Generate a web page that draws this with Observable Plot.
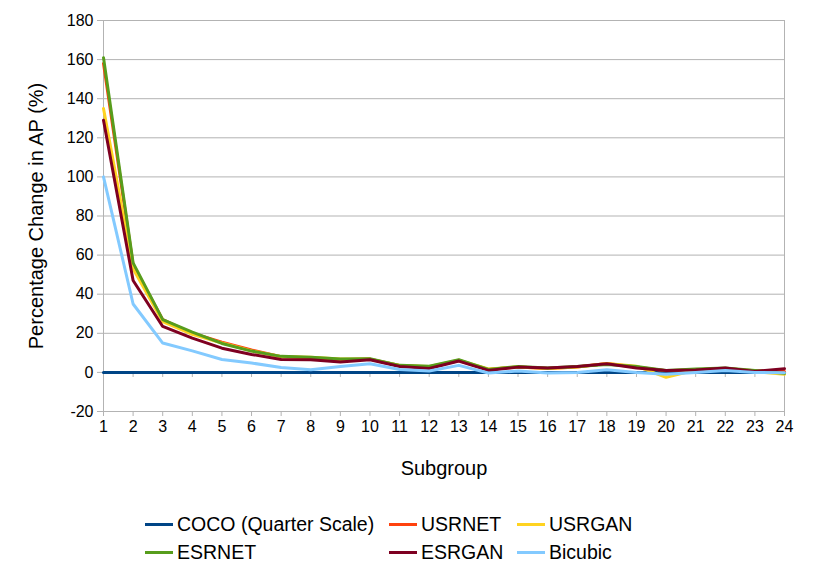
<!DOCTYPE html>
<html>
<head>
<meta charset="utf-8">
<script src="https://cdn.jsdelivr.net/npm/d3@7"></script>
<script src="https://cdn.jsdelivr.net/npm/@observablehq/plot@0.6"></script>
<style>
  html, body { margin: 0; padding: 0; background: #fff; }
  body { width: 813px; height: 567px; position: relative; font-family: "Liberation Sans", Arial, sans-serif; }
  #legend { position: absolute; left: 0; top: 0; width: 813px; }
  .item { position: absolute; display: flex; align-items: center; font-size: 19.5px; color: #000; white-space: nowrap; }
  .sw { width: 28px; height: 3px; margin-right: 4px; }
</style>
</head>
<body>
<div id="chart"></div>
<div id="legend"></div>
<script>
const subgroups = [1,2,3,4,5,6,7,8,9,10,11,12,13,14,15,16,17,18,19,20,21,22,23,24];
const yTicks = [-20,0,20,40,60,80,100,120,140,160,180];
const seriesNames = ["COCO (Quarter Scale)","USRNET","USRGAN","ESRNET","ESRGAN","Bicubic"];
const seriesColors = ["#004586","#ff420e","#ffd320","#579d1c","#7e0021","#83caff"];

const coco    = [0,0,0,0,0,0,0,0,0,0,0,0,0,0,0,0,0,0,0,0,0,0,0,0];
const usrnet  = [158,55,27,20,15.5,11.5,8,7.5,6.5,6.8,3.5,2.8,6,1.5,2.8,2,2.8,4.5,2.8,0.8,1.4,2,0.8,0.5];
const usrgan  = [135,53,26,19.5,15,11,8,7.8,6.8,6.8,3.5,3,6.2,1.8,2.8,2,2.8,4.6,3.2,-2.5,1.2,2,0.5,-1];
const esrnet  = [161,56,27,20.6,14.8,10.9,8.2,7.8,6.8,7,3.6,3.2,6.5,1.5,3,2.2,3,4,3,1,1.8,2.2,1,-0.5];
const esrgan  = [129,47,23.5,17.5,12.4,9.2,6.6,6.5,5.3,6.5,3,2,5.8,1,2.7,2.2,3,4.4,2.2,1,1.2,2.2,0.5,1.9];
const bicubic = [100,35,15,11,6.6,4.8,2.5,1.4,3,4.4,1.5,0.7,3.6,-0.3,0.7,-0.3,0,1.4,0,-1,0,1,0,-0.2];

const seriesValues = [coco, usrnet, usrgan, esrnet, esrgan, bicubic];
const rows = [];
seriesNames.forEach((name, i) => {
  subgroups.forEach((s, j) => rows.push({series: name, subgroup: s, value: seriesValues[i][j]}));
});

const font = "Liberation Sans, Arial, sans-serif";
const chart = Plot.plot({
  width: 813,
  height: 485,
  marginLeft: 103,
  marginRight: 29,
  marginTop: 20,
  marginBottom: 74,
  style: {fontFamily: font, fontSize: "16px", color: "#000", background: "#fff"},
  x: {domain: [1, 24]},
  y: {domain: [-20, 180]},
  color: {domain: seriesNames, range: seriesColors},
  marks: [
    Plot.ruleY(yTicks, {stroke: "#b3b3b3", strokeWidth: 1}),
    Plot.ruleX([1, 24], {stroke: "#b3b3b3", strokeWidth: 1}),
    Plot.axisY({ticks: yTicks, tickFormat: d => String(d), tickSize: 6, tickPadding: 4, stroke: "#b3b3b3", label: null, fontSize: 16}),
    Plot.axisX({ticks: subgroups, tickFormat: d => String(d), tickSize: 5, tickPadding: 4, stroke: "#b3b3b3", label: null, fontSize: 16}),
    Plot.ruleX(subgroups, {y1: 0, y2: -2.6, stroke: "#b3b3b3"}),
    Plot.line(rows, {x: "subgroup", y: "value", z: "series", stroke: "series", strokeWidth: 3, strokeLinejoin: "round"}),
    Plot.text(["Subgroup"], {frameAnchor: "bottom", dy: 57, lineAnchor: "middle", textAnchor: "middle", fontSize: 20, fill: "#000"}),
    Plot.text(["Percentage Change in AP (%)"], {frameAnchor: "left", dx: -67, rotate: -90, lineAnchor: "middle", textAnchor: "middle", fontSize: 20, fill: "#000"})
  ]
});
document.getElementById("chart").appendChild(chart);

const legendPos = [[145, 524], [389, 524], [517, 524], [145, 552], [389, 552], [517, 552]];
const legend = document.getElementById("legend");
seriesNames.forEach((name, i) => {
  const it = document.createElement("div");
  it.className = "item";
  it.style.left = legendPos[i][0] + "px";
  it.style.top = (legendPos[i][1] - 12) + "px";
  it.style.height = "24px";
  const sw = document.createElement("span");
  sw.className = "sw";
  sw.style.background = seriesColors[i];
  const t = document.createElement("span");
  t.textContent = name;
  it.appendChild(sw);
  it.appendChild(t);
  legend.appendChild(it);
});
</script>
</body>
</html>
